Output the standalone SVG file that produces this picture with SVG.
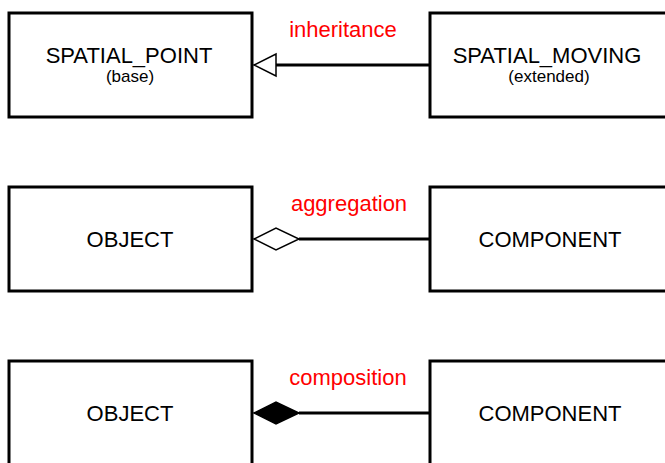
<svg xmlns="http://www.w3.org/2000/svg" width="665" height="463" viewBox="0 0 665 463">
<style>
.box{fill:#fff;stroke:#000;stroke-width:3}
.t{font-family:"Liberation Sans",Arial,sans-serif;font-size:22px;fill:#000;text-anchor:middle}
.s{font-family:"Liberation Sans",Arial,sans-serif;font-size:17px;fill:#000;text-anchor:middle}
.lbl{font-family:"Liberation Sans",Arial,sans-serif;font-size:22px;fill:#ff0000;text-anchor:middle}
.ln{stroke:#000;stroke-width:3;fill:none}
.hd{stroke:#000;stroke-width:1.5}
</style>
<g id="spatial_point"><rect class="box" x="9" y="13" width="243" height="104"/><text class="t" x="129" y="63">SPATIAL_POINT</text><text class="s" x="130" y="82">(base)</text></g>
<g id="spatial_moving"><rect class="box" x="430" y="13" width="246" height="104"/><text class="t" x="547" y="63">SPATIAL_MOVING</text><text class="s" x="549" y="82">(extended)</text></g>
<g id="object1"><rect class="box" x="9" y="187" width="243" height="104"/><text class="t" x="130" y="247">OBJECT</text></g>
<g id="component1"><rect class="box" x="430" y="187" width="246" height="104"/><text class="t" x="550" y="247">COMPONENT</text></g>
<g id="object2"><rect class="box" x="9" y="361" width="243" height="104"/><text class="t" x="130" y="421">OBJECT</text></g>
<g id="component2"><rect class="box" x="430" y="361" width="246" height="104"/><text class="t" x="550" y="421">COMPONENT</text></g>
<g id="connectors">
<line class="ln" x1="430" y1="65" x2="276" y2="65"/>
<polygon class="hd" fill="#fff" points="254,65 276,54 276,76"/>
<text class="lbl" x="343" y="37">inheritance</text>
<line class="ln" x1="430" y1="239" x2="299" y2="239"/>
<polygon class="hd" fill="#fff" points="254,239 276,228 299,239 276,250"/>
<text class="lbl" x="349" y="211">aggregation</text>
<line class="ln" x1="430" y1="413" x2="299" y2="413"/>
<polygon class="hd" fill="#000" points="254,413 276,402 299,413 276,424"/>
<text class="lbl" x="348" y="385">composition</text>
</g>
</svg>
